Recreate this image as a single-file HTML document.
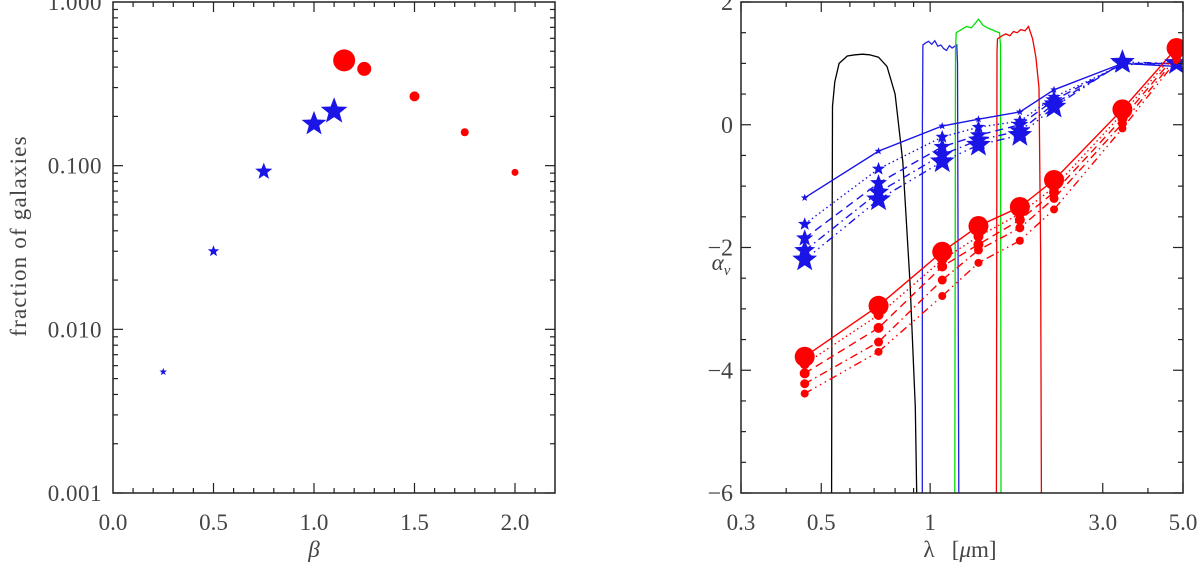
<!DOCTYPE html>
<html><head><meta charset="utf-8"><style>
html,body{margin:0;padding:0;background:#fff;}
svg{display:block;font-family:"Liberation Serif",serif;}
</style></head><body>
<svg id="fig" width="1200" height="564" viewBox="0 0 1200 564"></svg>
<script>
// ---------- Left panel data ----------
const betaStars = [0.25, 0.5, 0.75, 1.0, 1.1];
const fracStars = [0.0055, 0.030, 0.092, 0.18, 0.215];
const starSizesL = [4, 6, 9, 13, 14];
const betaCircles = [1.15, 1.25, 1.5, 1.75, 2.0];
const fracCircles = [0.44, 0.39, 0.265, 0.16, 0.091];
const circleSizesL = [11, 7, 5, 4, 3.5];
const leftXTicks = ["0.0","0.5","1.0","1.5","2.0"];
const leftYTicks = ["0.001","0.010","0.100","1.000"];

// ---------- Right panel data ----------
const lambdas = [0.45, 0.72, 1.08, 1.36, 1.77, 2.2, 3.4, 4.8];
const blueSeries = [
  [-1.19, -0.43, -0.02, 0.09, 0.21, 0.57, 1.0, 0.95],
  [-1.62, -0.72, -0.20, -0.04, 0.06, 0.45, 0.98, 1.0],
  [-1.85, -0.95, -0.36, -0.17, 0.00, 0.40, 0.99, 1.0],
  [-2.05, -1.10, -0.49, -0.25, -0.10, 0.34, 1.00, 1.0],
  [-2.20, -1.22, -0.60, -0.33, -0.17, 0.29, 1.02, 1.0]
];
const redSeries = [
  [-3.78, -2.95, -2.07, -1.65, -1.34, -0.90, 0.25, 1.25],
  [-3.90, -3.10, -2.20, -1.82, -1.45, -1.02, 0.18, 1.20],
  [-4.05, -3.31, -2.31, -1.95, -1.55, -1.10, 0.10, 1.15],
  [-4.22, -3.54, -2.53, -2.04, -1.68, -1.20, 0.02, 1.10],
  [-4.38, -3.70, -2.79, -2.25, -1.89, -1.38, -0.06, 1.05]
];
const blueStarSizes = [4, 7, 9, 11, 13];
const redCircleSizes = [10, 5, 5, 4.5, 4];
const lineDash = ["", "1.5,3", "8,5", "8,4,1.5,4", "8,4,1.5,4,1.5,4,1.5,4"];
const filterBlackX = [0.534,0.535,0.537,0.545,0.56,0.59,0.62,0.65,0.68,0.72,0.76,0.80,0.84,0.88,0.91,0.918];
const filterBlackY = [-6,-3,0.3,0.7,1.0,1.12,1.14,1.15,1.14,1.1,0.95,0.5,-0.6,-2.6,-4.6,-6];
const filterJX = [0.951,0.952,0.955,0.97,0.99,1.01,1.03,1.05,1.07,1.09,1.11,1.13,1.15,1.17,1.185,1.19,1.20];
const filterJY = [-6,0,1.3,1.33,1.36,1.31,1.37,1.28,1.30,1.24,1.21,1.29,1.25,1.28,1.30,1.0,-6];
const filterHX = [1.17,1.175,1.18,1.22,1.26,1.30,1.33,1.36,1.40,1.44,1.48,1.52,1.555,1.565,1.57];
const filterHY = [-6,1.2,1.5,1.55,1.6,1.58,1.65,1.72,1.62,1.58,1.55,1.52,1.50,1.3,-6];
const filterKX = [1.525,1.53,1.535,1.58,1.62,1.66,1.70,1.74,1.78,1.83,1.87,1.92,1.96,2.0,2.02,2.03];
const filterKY = [-6,1.2,1.4,1.45,1.48,1.45,1.52,1.50,1.55,1.53,1.60,1.40,1.10,0.6,-2,-6];
const rightYTicks = [2, 0, -2, -4, -6];
const rightXTickVals = [0.3, 0.5, 1, 3, 5];
const rightXTickLabels = ["0.3","0.5","1","3.0","5.0"];

const NS = "http://www.w3.org/2000/svg";
const svg = document.getElementById("fig");
function mk(tag, attrs, parent) {
  const e = document.createElementNS(NS, tag);
  for (const k in attrs) e.setAttribute(k, attrs[k]);
  (parent || svg).appendChild(e);
  return e;
}
function starPts(cx, cy, r) {
  const p = [];
  for (let i = 0; i < 10; i++) {
    const rr = i % 2 ? r * 0.42 : r;
    const a = -Math.PI / 2 + i * Math.PI / 5;
    p.push((cx + rr * Math.cos(a)).toFixed(1) + "," + (cy + rr * Math.sin(a)).toFixed(1));
  }
  return p.join(" ");
}
const AX = "#222";
const TXT = "#444";
const FS = 23;

// ---------- Left axes ----------
const L = {x0: 113, x1: 555, y0: 2, y1: 493};
const lx = v => L.x0 + v * 201;
const ly = v => L.y1 - (Math.log10(v) + 3) * (L.y1 - L.y0) / 3;
const gL = mk("g", {});


const frL = mk("rect", {x: L.x0, y: L.y0, width: L.x1 - L.x0, height: L.y1 - L.y0, fill: "none", stroke: AX, "stroke-width": 1.5}, gL);


for (let i = 1; i <= 21; i++) {
  const x = lx(i * 0.1), len = i % 5 === 0 ? 10 : 5;
  mk("line", {x1: x, x2: x, y1: L.y1, y2: L.y1 - len, stroke: AX, "stroke-width": 1.2}, gL);
  mk("line", {x1: x, x2: x, y1: L.y0, y2: L.y0 + len, stroke: AX, "stroke-width": 1.2}, gL);
}
for (let d = -3; d < 0; d++) {
  for (let m = 1; m <= 9; m++) {
    const v = m * Math.pow(10, d);
    const y = ly(v), len = m === 1 ? 10 : 5;
    mk("line", {x1: L.x0, x2: L.x0 + len, y1: y, y2: y, stroke: AX, "stroke-width": 1.2}, gL);
    mk("line", {x1: L.x1, x2: L.x1 - len, y1: y, y2: y, stroke: AX, "stroke-width": 1.2}, gL);
  }
}
leftXTicks.forEach((t) => {
  const e = mk("text", {x: lx(parseFloat(t)), y: 530, "font-size": FS, fill: TXT, "text-anchor": "middle"}, gL);
  e.textContent = t;
  
  
});
leftYTicks.forEach((t) => {
  const e = mk("text", {x: 102, y: ly(parseFloat(t)) + 8, "font-size": FS, fill: TXT, "text-anchor": "end", "letter-spacing": 0.5}, gL);
  e.textContent = t;
  
  
});
const xtL = mk("text", {x: lx(1.0), y: 557, "font-size": FS, fill: TXT, "text-anchor": "middle", "font-style": "italic"}, gL);
xtL.textContent = "β";


const ytL = mk("text", {x: 0, y: 0, "font-size": FS, fill: TXT, "text-anchor": "middle", "letter-spacing": 1.2, transform: "translate(26,236) rotate(-90)"}, gL);
ytL.textContent = "fraction of galaxies";


betaStars.forEach((b, i) => {
  const s = mk("polygon", {points: starPts(lx(b), ly(fracStars[i]), starSizesL[i]), fill: "#1a14e6"}, gL);
  
  
});
betaCircles.forEach((b, i) => {
  const c = mk("circle", {cx: lx(b), cy: ly(fracCircles[i]), r: circleSizesL[i], fill: "#f00"}, gL);
  
  
});

// ---------- Right axes ----------
const R = {x0: 741, x1: 1183, y0: 2, y1: 493};
const rx = v => R.x0 + Math.log10(v / 0.3) * (R.x1 - R.x0) / Math.log10(5 / 0.3);
const ry = v => R.y0 + (2 - v) * (R.y1 - R.y0) / 8;
const gR = mk("g", {});


const clip = mk("clipPath", {id: "rclip"}, gR);
mk("rect", {x: R.x0, y: R.y0, width: R.x1 - R.x0, height: R.y1 - R.y0}, clip);
const gData = mk("g", {"clip-path": "url(#rclip)"}, gR);
function poly(xs, ys, color, name) {
  const pts = xs.map((x, i) => rx(x).toFixed(1) + "," + ry(ys[i]).toFixed(1)).join(" ");
  const p = mk("polyline", {points: pts, fill: "none", stroke: color, "stroke-width": 1.3}, gData);
  
  
}
poly(filterBlackX, filterBlackY, "#000", "filter-curve-optical");
poly(filterJX, filterJY, "#2020e0", "filter-curve-j");
poly(filterHX, filterHY, "#00e000", "filter-curve-h");
poly(filterKX, filterKY, "#f00000", "filter-curve-k");
function seriesLine(vals, color, k, name) {
  const pts = lambdas.map((l, i) => rx(l).toFixed(1) + "," + ry(vals[i]).toFixed(1)).join(" ");
  const p = mk("polyline", {points: pts, fill: "none", stroke: color, "stroke-width": 1.4, "stroke-dasharray": lineDash[k]}, gData);
  
  
}
blueSeries.forEach((s, k) => seriesLine(s, "#1a14e6", k, "blue-series-line"));
redSeries.forEach((s, k) => seriesLine(s, "#f00", k, "red-series-line"));
blueSeries.forEach((s, k) => s.forEach((v, i) => {
  const st = mk("polygon", {points: starPts(rx(lambdas[i]), ry(v), blueStarSizes[k]), fill: "#1a14e6"}, gData);
  
  
}));
redSeries.forEach((s, k) => s.forEach((v, i) => {
  const c = mk("circle", {cx: rx(lambdas[i]), cy: ry(v), r: redCircleSizes[k], fill: "#f00"}, gData);
  
  
}));
const frR = mk("rect", {x: R.x0, y: R.y0, width: R.x1 - R.x0, height: R.y1 - R.y0, fill: "none", stroke: AX, "stroke-width": 1.5}, gR);


const rMinor = [0.4, 0.6, 0.7, 0.8, 0.9, 4];
rightXTickVals.concat(rMinor).forEach((v, i) => {
  const x = rx(v), len = i < rightXTickVals.length ? 10 : 5;
  mk("line", {x1: x, x2: x, y1: R.y1, y2: R.y1 - len, stroke: AX, "stroke-width": 1.2}, gR);
  mk("line", {x1: x, x2: x, y1: R.y0, y2: R.y0 + len, stroke: AX, "stroke-width": 1.2}, gR);
});
for (let v = -6; v <= 2; v += 0.5) {
  const y = ry(v), len = v % 2 === 0 ? 10 : 5;
  mk("line", {x1: R.x0, x2: R.x0 + len, y1: y, y2: y, stroke: AX, "stroke-width": 1.2}, gR);
  mk("line", {x1: R.x1, x2: R.x1 - len, y1: y, y2: y, stroke: AX, "stroke-width": 1.2}, gR);
}
rightXTickVals.forEach((v, i) => {
  const e = mk("text", {x: rx(v), y: 530, "font-size": FS, fill: TXT, "text-anchor": "middle"}, gR);
  e.textContent = rightXTickLabels[i];
  
  
});
rightYTicks.forEach((v) => {
  const e = mk("text", {x: 733, y: ry(v) + 8, "font-size": FS + 1, fill: TXT, "text-anchor": "end"}, gR);
  e.textContent = v < 0 ? "\u2212" + Math.abs(v) : String(v);
  
  
});
const xtR = mk("text", {x: 960, y: 557, "font-size": FS, fill: TXT, "text-anchor": "middle"}, gR);
xtR.innerHTML = 'λ\u00a0\u00a0\u00a0[<tspan font-style="italic">μ</tspan>m]';


const ytR = mk("text", {x: 721, y: 270, "font-size": FS, fill: TXT, "text-anchor": "middle", "font-style": "italic"}, gR);
ytR.innerHTML = 'α<tspan font-size="15" dy="5">ν</tspan>';


</script>
</body></html>
